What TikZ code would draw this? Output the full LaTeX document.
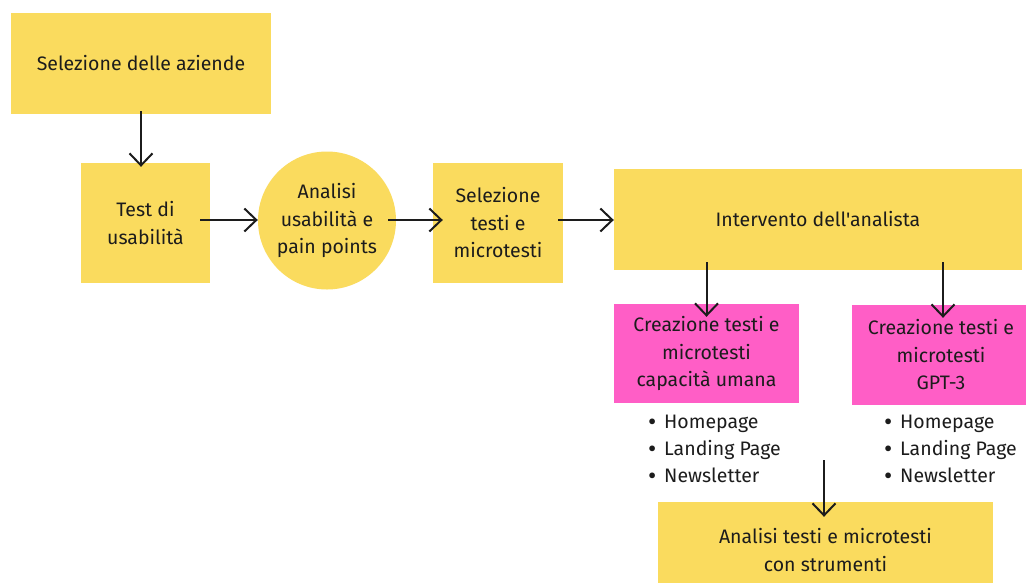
\documentclass[tikz,border=0pt]{standalone}
\usepackage{fontspec}
\setmainfont[Ligatures=TeXOff]{Fira Sans}
\usetikzlibrary{arrows.meta,calc}
\definecolor{boxyellow}{HTML}{FADB5E}
\definecolor{boxpink}{HTML}{FF5EC6}
\definecolor{ink}{HTML}{1C1C1C}
\tikzset{
  lbl/.style={font=\fontsize{19.5}{27.5}\selectfont, text=ink, align=center},
  ybox/.style={lbl, fill=boxyellow, draw=none, inner sep=0pt, rectangle},
  pbox/.style={lbl, fill=boxpink, draw=none, inner sep=0pt, rectangle},
  ycirc/.style={lbl, fill=boxyellow, draw=none, inner sep=0pt, circle},
  arr/.style={draw=ink, line width=2pt, -{Straight Barb[length=12pt,width=23pt,line width=2pt]}},
  listtxt/.style={font=\fontsize{19.5}{27}\selectfont, text=ink, align=left, inner sep=0pt}
}
\newcommand{\itm}[1]{\makebox[16pt][l]{\raisebox{-2.5pt}{\scalebox{1.3}{•}}}#1}
\begin{document}
\begin{tikzpicture}[x=1pt,y=-1pt]
\clip (0,0) rectangle (1026,582);
\fill[white] (0,0) rectangle (1026,582);

% process boxes
\node[ybox, minimum width=260pt, minimum height=101pt] (b1) at (141,63.5) {Selezione delle aziende};
\node[ybox, minimum width=129pt, minimum height=120pt] (b2) at (145.5,223) {Test di\\usabilità};
\node[ycirc, minimum size=138pt] (c3) at (327,220.5) {Analisi\\usabilità e\\pain points};
\node[ybox, minimum width=130pt, minimum height=120pt] (b4) at (498,223) {Selezione\\testi e\\microtesti};
\node[ybox, minimum width=408pt, minimum height=101pt] (b5) at (818,219.5) {Intervento dell'analista};

% text creation branches
\node[pbox, minimum width=185pt, minimum height=99pt] (p1) at (706.5,353.5) {Creazione testi e\\microtesti\\capacità umana};
\node[pbox, minimum width=178pt, minimum height=100pt] (p2) at (941,355) {Creazione testi e\\microtesti\\GPT-3};

% deliverables
\node[listtxt, anchor=west] (l1) at (648,450) {\itm{Homepage}\\\itm{Landing Page}\\\itm{Newsletter}};
\node[listtxt, anchor=west] (l2) at (884,450) {\itm{Homepage}\\\itm{Landing Page}\\\itm{Newsletter}};

% final analysis
\node[ybox, minimum width=335pt, minimum height=96pt] (b6) at (825.5,550) {Analisi testi e microtesti\\con strumenti};

% connectors (horizontal ones run along the middle row)
\coordinate (m) at (824,460);
\coordinate (row) at (0,220);
\draw[arr] ([yshift=3pt]b1.south) -- ([yshift=-4pt]b1.south |- b2.north);
\draw[arr] ([xshift=-10pt]b2.east |- row) -- (c3.west |- row);
\draw[arr] ([xshift=-8pt]c3.east |- row) -- ([xshift=10pt]b4.west |- row);
\draw[arr] ([xshift=-5pt]b4.east |- row) -- (b5.west |- row);
\draw[arr] ([yshift=8pt]b5.south -| p1.north) -- ([yshift=-13pt]p1.north);
\draw[arr] ([xshift=2pt,yshift=8pt]b5.south -| p2.north) -- ([xshift=2pt,yshift=-13pt]p2.north);
\draw[arr] (m) -- ([yshift=-15pt]m |- b6.north);
\end{tikzpicture}
\end{document}
